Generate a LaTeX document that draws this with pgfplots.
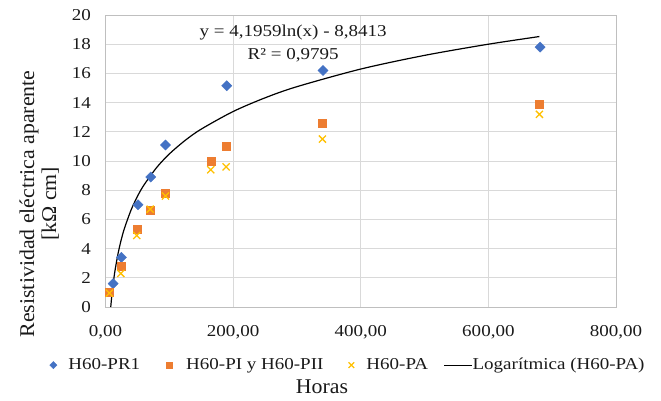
\documentclass[border=0pt]{standalone}
\usepackage{fontspec}
\setmainfont[FakeStretch=1.145]{Liberation Serif}
\newfontfamily\titlefont[FakeStretch=1.04]{Liberation Serif}
\usepackage{pgfplots}
\pgfplotsset{compat=1.18}
\definecolor{cblue}{HTML}{4472C4}
\definecolor{corange}{HTML}{ED7D31}
\definecolor{cyellow}{HTML}{FFC000}
\definecolor{gridgray}{HTML}{D9D9D9}
\definecolor{axisgray}{HTML}{BFBFBF}
\definecolor{txt}{HTML}{1A1A1A}
\pgfplotsset{
  legA/.style={legend image code/.code={\path[draw=none,fill=none] (-5pt,0pt) -- (15pt,0pt);
     \draw[cblue] plot[mark=square*, mark size=2.6pt, mark options={rotate=45, fill=cblue, draw=cblue}] coordinates {(0pt,0pt)};}},
  legB/.style={legend image code/.code={\path[draw=none,fill=none] (-29pt,0pt) -- (17pt,0pt);
     \draw[corange] plot[mark=square*, mark size=2.9pt, mark options={fill=corange, draw=corange}] coordinates {(0pt,0pt)};}},
  legC/.style={legend image code/.code={\path[draw=none,fill=none] (-28pt,0pt) -- (15pt,0pt);
     \draw[cyellow] plot[mark=x, mark size=4pt, mark options={line width=1.2pt, draw=cyellow}] coordinates {(0pt,0pt)};}},
  legD/.style={legend image code/.code={\path[draw=none,fill=none] (-16pt,0pt) -- (28pt,0pt);
     \draw[black, line width=1.1pt] (0pt,0pt) -- (28pt,0pt);}},
}
\begin{document}
\fontsize{16.6pt}{19pt}\selectfont
\begin{tikzpicture}[font=\fontsize{16.6pt}{19pt}\selectfont, text=txt]
\begin{axis}[
  scale only axis, width=510.5pt, height=292pt,
  xmin=0, xmax=800, ymin=0, ymax=20,
  xtick={0,200,400,600,800},
  xticklabels={{0,00},{200,00},{400,00},{600,00},{800,00}},
  ytick={0,2,4,6,8,10,12,14,16,18,20},
  grid=major,
  major grid style={color=gridgray, line width=0.9pt},
  axis line style={color=axisgray, line width=0.9pt},
  tick style={draw=none},
  /pgf/number format/assume math mode=true,
  yticklabel style={xshift=-9pt},
  xticklabel style={yshift=-13pt},
  every axis y label/.style={at={(axis description cs:-0.130,0.353)}, rotate=90, anchor=center, align=center,
     font=\titlefont\fontsize{21pt}{22pt}\selectfont},
  every axis x label/.style={at={(axis description cs:0.424,-0.274)}, anchor=center,
     font=\titlefont\fontsize{21pt}{22pt}\selectfont},
  ylabel={Resistividad eléctrica aparente\\{}[kΩ cm]},
  xlabel={Horas},
  legend columns=4,
  legend style={at={(0.472,-0.199)}, anchor=center, draw=none, fill=none,
    nodes={inner sep=0pt},
    cells={anchor=west},
    /tikz/every odd column/.append style={column sep=0pt},
    /tikz/every even column/.append style={column sep=0pt}},
]
\addplot[only marks, mark=square*, mark size=3.6pt, mark options={rotate=45}, color=cblue, legA]
  coordinates {(12,1.6) (25,3.4) (51,7.0) (71,8.9) (94,11.1) (190,15.15) (341,16.2) (681,17.8)};
\addlegendentry{H60-PR1}
\addplot[only marks, mark=square*, mark size=4pt, color=corange, legB]
  coordinates {(6,1.0) (24,2.8) (49,5.3) (70,6.6) (93,7.8) (165,10.0) (189,11.0) (340,12.6) (680,13.9)};
\addlegendentry{H60-PI y H60-PII}
\addplot[only marks, mark=x, mark size=5pt, color=cyellow, mark options={line width=1.3pt}, legC]
  coordinates {(6,0.95) (24,2.3) (49,4.9) (70,6.7) (94,7.6) (165,9.4) (189,9.6) (340,11.5) (680,13.2)};
\addlegendentry{H60-PA}
\addplot[black, line width=1.2pt, no marks, smooth, legD]
  coordinates {(8.22,0) (9,0.38) (10,0.820) (12,1.585) (15,2.521) (20,3.729) (25,4.665) (30,5.430) (40,6.637) (50,7.573) (60,8.338) (80,9.545) (100,10.482) (125,11.418) (150,12.183) (200,13.390) (250,14.326) (300,15.091) (400,16.298) (500,17.235) (600,18.000) (680,18.525)};
\addlegendentry{Logarítmica (H60-PA)}
\node at (axis cs:294,18.77) {y = 4,1959ln(x) - 8,8413};
\node at (axis cs:294,17.26) {R² = 0,9795};
\end{axis}
\pgfresetboundingbox
\path (-105.5pt,-93pt) rectangle (555.5pt,307pt);
\end{tikzpicture}
\end{document}
